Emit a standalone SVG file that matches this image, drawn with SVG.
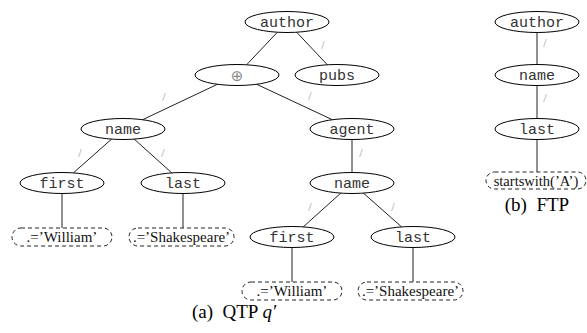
<svg xmlns="http://www.w3.org/2000/svg" width="587" height="333" viewBox="0 0 587 333">
<style>
.n ellipse{fill:#fff;stroke:#000;stroke-width:1}
.n text{font-family:"Liberation Mono","DejaVu Sans Mono",monospace;font-size:15px;fill:#333;text-anchor:middle}
.p rect{fill:#fff;stroke:#222;stroke-width:1;stroke-dasharray:4 3}
.p text{font-family:"Liberation Serif","Times New Roman",serif;font-size:15px;fill:#111;text-anchor:middle}
#edges line{stroke:#222;stroke-width:1}
.sl{font-family:"Liberation Serif",serif;font-size:12px;fill:#999;text-anchor:middle}
.cap{font-family:"Liberation Serif","Times New Roman",serif;font-size:19px;fill:#000;text-anchor:middle}
</style>
<rect width="587" height="333" fill="#fff"/>
<g id="edges">
<line x1="277.4" y1="32.2" x2="246.6" y2="64.8"/>
<line x1="296.6" y1="32.2" x2="327.4" y2="64.8"/>
<line x1="217.4" y1="84.3" x2="142.6" y2="119.7"/>
<line x1="256.7" y1="84.3" x2="332.3" y2="119.7"/>
<line x1="111.6" y1="139.1" x2="73.4" y2="172.9"/>
<line x1="134.2" y1="139.1" x2="171.8" y2="172.9"/>
<line x1="352" y1="139.5" x2="352" y2="172.5"/>
<line x1="340.8" y1="193.1" x2="303.2" y2="226.9"/>
<line x1="363.4" y1="193.1" x2="401.6" y2="226.9"/>
<line x1="62" y1="193.5" x2="62" y2="228"/>
<line x1="183" y1="193.5" x2="183" y2="228"/>
<line x1="292" y1="247.5" x2="292" y2="282"/>
<line x1="413" y1="247.5" x2="413" y2="282"/>
<line x1="537" y1="32.5" x2="537" y2="64.5"/>
<line x1="537" y1="85.5" x2="537" y2="118.5"/>
<line x1="537" y1="139.5" x2="537" y2="172"/>
<text class="sl" x="323" y="49">/</text>
<text class="sl" x="310" y="100">/</text>
<text class="sl" x="164" y="101">/</text>
<text class="sl" x="80" y="157">/</text>
<text class="sl" x="163" y="157">/</text>
<text class="sl" x="361" y="157">/</text>
<text class="sl" x="310" y="211">/</text>
<text class="sl" x="393" y="211">/</text>
<text class="sl" x="545" y="47">/</text>
<text class="sl" x="545" y="102">/</text>
</g>
<g id="author" class="n"><ellipse cx="287" cy="22" rx="42" ry="10.5"/><text x="287" y="27">author</text></g>
<g id="oplus" class="n"><ellipse cx="237" cy="75" rx="42" ry="10.5"/><text x="237" y="80.5" style="font-family:'DejaVu Sans',sans-serif;font-size:15px;fill:#888">⊕</text></g>
<g id="pubs" class="n"><ellipse cx="337" cy="75" rx="42" ry="10.5"/><text x="337" y="80">pubs</text></g>
<g id="name1" class="n"><ellipse cx="123" cy="129" rx="42" ry="10.5"/><text x="123" y="134">name</text></g>
<g id="agent" class="n"><ellipse cx="352" cy="129" rx="42" ry="10.5"/><text x="352" y="134">agent</text></g>
<g id="first1" class="n"><ellipse cx="62" cy="183" rx="42" ry="10.5"/><text x="62" y="188">first</text></g>
<g id="last1" class="n"><ellipse cx="183" cy="183" rx="42" ry="10.5"/><text x="183" y="188">last</text></g>
<g id="name2" class="n"><ellipse cx="352" cy="183" rx="42" ry="10.5"/><text x="352" y="188">name</text></g>
<g id="first2" class="n"><ellipse cx="292" cy="237" rx="42" ry="10.5"/><text x="292" y="242">first</text></g>
<g id="last2" class="n"><ellipse cx="413" cy="237" rx="42" ry="10.5"/><text x="413" y="242">last</text></g>
<g id="pred1" class="p"><rect x="12" y="228" width="100" height="18" rx="9"/><text x="62" y="242">.=’William’</text></g>
<g id="pred2" class="p"><rect x="129" y="228" width="105" height="18" rx="9"/><text x="181.5" y="242">.=’Shakespeare’</text></g>
<g id="pred3" class="p"><rect x="242" y="282" width="100" height="18" rx="9"/><text x="292" y="296">.=’William’</text></g>
<g id="pred4" class="p"><rect x="358" y="282" width="105" height="18" rx="9"/><text x="410.5" y="296">.=’Shakespeare’</text></g>
<g id="ftp-author" class="n"><ellipse cx="537" cy="22" rx="42" ry="10.5"/><text x="537" y="27">author</text></g>
<g id="ftp-name" class="n"><ellipse cx="537" cy="75" rx="42" ry="10.5"/><text x="537" y="80">name</text></g>
<g id="ftp-last" class="n"><ellipse cx="537" cy="129" rx="42" ry="10.5"/><text x="537" y="134">last</text></g>
<g id="ftp-pred" class="p"><rect x="486" y="172" width="100" height="17" rx="8.5"/><text x="536" y="185.5" style="font-size:14.5px">startswith(’A’)</text></g>
<text class="cap" x="234" y="318" xml:space="preserve">(a)  QTP <tspan font-style="italic">q′</tspan></text>
<text class="cap" x="537" y="211" xml:space="preserve">(b)  FTP</text>
</svg>
